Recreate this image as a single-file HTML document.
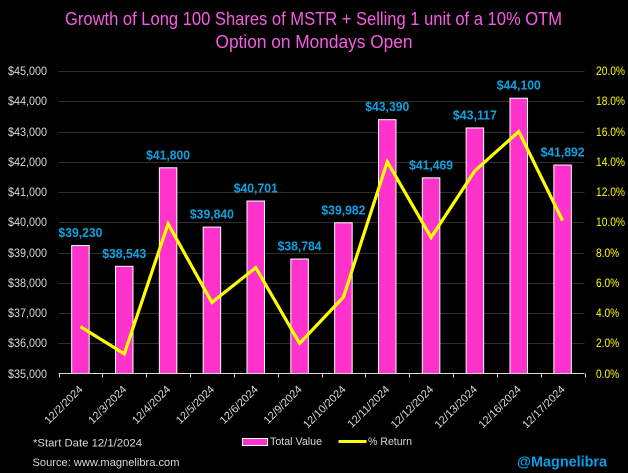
<!DOCTYPE html>
<html>
<head>
<meta charset="utf-8">
<title>Growth of Long 100 Shares of MSTR</title>
<style>
html,body{margin:0;padding:0;background:#000;}
svg{display:block;font-family:"Liberation Sans",sans-serif;}
</style>
</head>
<body>
<svg id="chart" width="628" height="473" viewBox="0 0 628 473">
<rect x="0" y="0" width="628" height="473" fill="#000"/>
<text x="313.5" y="25" text-anchor="middle" font-size="18.5" fill="#f95ce4" textLength="497" lengthAdjust="spacingAndGlyphs">Growth of Long 100 Shares of MSTR + Selling 1 unit of a 10% OTM</text>
<text x="314" y="48" text-anchor="middle" font-size="18.5" fill="#f95ce4" textLength="197" lengthAdjust="spacingAndGlyphs">Option on Mondays Open</text>
<g id="grid"></g>
<g id="bars"></g>
<g id="axes"></g>
<path id="line" fill="none" stroke="#ffff00" stroke-width="3.2" stroke-linejoin="miter"></path>
<g id="labels"></g>
<text x="33" y="446.5" font-size="11" fill="#d9d9d9" textLength="109" lengthAdjust="spacingAndGlyphs">*Start Date 12/1/2024</text>
<text x="32.5" y="466" font-size="11" fill="#d9d9d9" textLength="147" lengthAdjust="spacingAndGlyphs">Source: www.magnelibra.com</text>
<rect x="242.5" y="438.5" width="25" height="7" fill="#ff33cc" stroke="#fff" stroke-width="1"/>
<text x="270" y="445" font-size="11" fill="#d9d9d9" textLength="52" lengthAdjust="spacingAndGlyphs">Total Value</text>
<line x1="338.5" y1="441.5" x2="366.5" y2="441.5" stroke="#ffff00" stroke-width="3"/>
<text x="368" y="445" font-size="11" fill="#d9d9d9" textLength="44" lengthAdjust="spacingAndGlyphs">% Return</text>
<text x="517" y="466.5" font-size="15" font-weight="bold" fill="#0a9fe6" textLength="90" lengthAdjust="spacingAndGlyphs">@Magnelibra</text>
</svg>
<script>
const categories = ["12/2/2024","12/3/2024","12/4/2024","12/5/2024","12/6/2024","12/9/2024","12/10/2024","12/11/2024","12/12/2024","12/13/2024","12/16/2024","12/17/2024"];
const totalValues = [39230,38543,41800,39840,40701,38784,39982,43390,41469,43117,44100,41892];
const percentReturns = [3.1,1.3,9.9,4.7,7.0,2.0,5.05,14.0,9.0,13.4,16.0,10.1];
const leftTicks = [35000,36000,37000,38000,39000,40000,41000,42000,43000,44000,45000];
const rightTicks = [0,2,4,6,8,10,12,14,16,18,20];

const NS = "http://www.w3.org/2000/svg";
const plotLeft = 58.5, plotRight = 584.5, plotTop = 71, plotBottom = 373.5;
const leftMin = 35000, leftMax = 45000, rightMin = 0, rightMax = 20;
const step = (plotRight - plotLeft) / categories.length;
const barWidth = 17.5;

function xBand(i) { return plotLeft + step * i; }
function xCenter(i) { return xBand(i) + step / 2; }
function yLeft(v) { return plotBottom - (v - leftMin) / (leftMax - leftMin) * (plotBottom - plotTop); }
function yRight(v) { return plotBottom - (v - rightMin) / (rightMax - rightMin) * (plotBottom - plotTop); }
function money(v) { return "$" + v.toLocaleString("en-US"); }
function make(tag, attrs, parent, text) {
  const el = document.createElementNS(NS, tag);
  for (const k in attrs) el.setAttribute(k, attrs[k]);
  if (text !== undefined) el.textContent = text;
  parent.appendChild(el);
  return el;
}

const grid = document.getElementById("grid");
const axes = document.getElementById("axes");
const bars = document.getElementById("bars");
const labels = document.getElementById("labels");

leftTicks.forEach(function (t) {
  const y = Math.round(yLeft(t)) + 0.5;
  if (t !== leftMin) {
    const g = make("line", {x1: plotLeft, x2: plotRight, y1: y, y2: y, stroke: "#2e2e2e", "stroke-width": 1}, grid);
    
    
  }
  const l = make("text", {x: 8, y: y + 3.5, "font-size": 11.5, fill: "#d9d9d9", textLength: 39, lengthAdjust: "spacingAndGlyphs"}, axes, money(t));
  
  
});

rightTicks.forEach(function (t) {
  const y = Math.round(yRight(t)) + 0.5;
  const s = t.toFixed(1) + "%";
  const l = make("text", {x: 596, y: y + 3.5, "font-size": 11.5, fill: "#ffff00", textLength: s.length * 5.8, lengthAdjust: "spacingAndGlyphs"}, axes, s);
  
  
});

const base = make("line", {x1: plotLeft, x2: plotRight, y1: plotBottom, y2: plotBottom, stroke: "#d9d9d9", "stroke-width": 1}, axes);



for (let i = 0; i <= categories.length; i++) {
  const x = Math.round(xBand(i)) + 0.5;
  const tick = make("line", {x1: x, x2: x, y1: plotBottom, y2: plotBottom + 4, stroke: "#d9d9d9", "stroke-width": 1}, axes);
  
  
}

categories.forEach(function (c, i) {
  const cx = xCenter(i);
  const top = yLeft(totalValues[i]);
  const b = make("rect", {x: cx - barWidth / 2, y: top, width: barWidth, height: plotBottom - top, fill: "#ff33cc", stroke: "#fff", "stroke-width": 1}, bars);
  
  

  const v = make("text", {x: cx, y: top - 8.5, "text-anchor": "middle", "font-size": 12.5, "font-weight": "bold", fill: "#0aa3e2", textLength: 44, lengthAdjust: "spacingAndGlyphs"}, labels, money(totalValues[i]));
  
  

  const ax = cx + 3, ay = 390;
  const t = make("text", {x: ax, y: ay, "text-anchor": "end", "font-size": 11, fill: "#d9d9d9", transform: "rotate(-45 " + ax + " " + ay + ")"}, axes, c);
  
  
});

document.getElementById("line").setAttribute("d", percentReturns.map(function (p, i) {
  return (i ? "L" : "M") + xCenter(i).toFixed(1) + " " + yRight(p).toFixed(1);
}).join(" "));
</script>
</body>
</html>
